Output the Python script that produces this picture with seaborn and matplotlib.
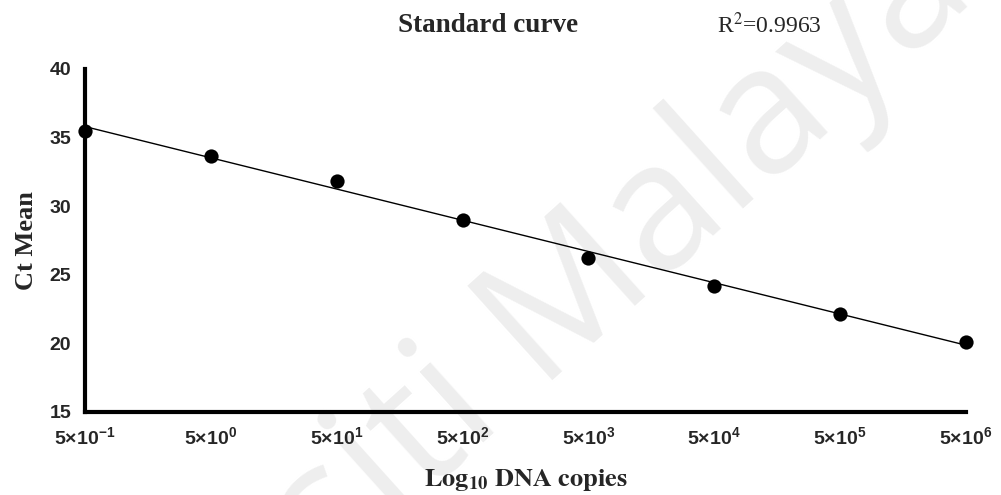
import numpy as np
import pandas as pd
import matplotlib
matplotlib.use("Agg")
import matplotlib.pyplot as plt
import seaborn as sns

# ---- data ----
copies = [5e-1, 5e0, 5e1, 5e2, 5e3, 5e4, 5e5, 5e6]
ct_mean = [35.48, 33.68, 31.84, 29.0, 26.25, 24.2, 22.14, 20.08]
tick_exponents = [-1, 0, 1, 2, 3, 4, 5, 6]
y_ticks = [15, 20, 25, 30, 35, 40]
r2_text = "0.9963"

sns.set_theme(style="white")
plt.rcParams["font.family"] = ["Liberation Sans", "DejaVu Sans"]
plt.rcParams["mathtext.fontset"] = "custom"
plt.rcParams["mathtext.rm"] = "Liberation Sans:bold"
plt.rcParams["mathtext.bf"] = "Liberation Sans:bold"
plt.rcParams["mathtext.it"] = "Liberation Sans:bold"

df = pd.DataFrame({"copies": copies, "ct": ct_mean})
slope, intercept = np.polyfit(np.log10(df["copies"]), df["ct"], 1)
df["fit"] = slope * np.log10(df["copies"]) + intercept

W, H = 1001, 495
fig = plt.figure(figsize=(W / 100, H / 100), dpi=100)
fig.patch.set_facecolor("white")
ax = fig.add_axes([0.085, 0.1677, 0.88, 0.693])
ax.set_zorder(2)
ax.set_facecolor("none")

# watermark (behind the axes)
wm_angle = 42
wm_size = 128
renderer = fig.canvas.get_renderer()
probe = fig.text(0, 0, "Universiti ", fontsize=wm_size, family="Open Sans")
w_px = probe.get_window_extent(renderer).width
probe.remove()
mx, my = 540, 392  # baseline start of "M" in pixels from top-left
th = np.deg2rad(wm_angle)
sx = mx - w_px * np.cos(th)
sy = my + w_px * np.sin(th)
fig.text(sx / W, 1 - sy / H, "Universiti Malaya", fontsize=wm_size,
         family="Open Sans", color="#eeeeee", rotation=wm_angle,
         rotation_mode="anchor", ha="left", va="baseline", zorder=0)

sns.lineplot(data=df, x="copies", y="fit", ax=ax, color="black", lw=1.0,
             zorder=2)
sns.scatterplot(data=df, x="copies", y="ct", ax=ax, color="black", s=105,
                edgecolor="black", linewidth=0, zorder=3, clip_on=False)

ax.set_xscale("log")
ax.set_xlim(copies[0], copies[-1])
ax.set_ylim(15, 40)
ax.set_xticks(copies)
ax.set_xticklabels([r"$5{\times}10^{%d}$" % e for e in tick_exponents])
ax.xaxis.set_minor_locator(matplotlib.ticker.NullLocator())
ax.set_yticks(y_ticks)
ax.set_yticklabels([str(v) for v in y_ticks])

for side in ["top", "right"]:
    ax.spines[side].set_visible(False)
for side in ["left", "bottom"]:
    ax.spines[side].set_linewidth(3)
    ax.spines[side].set_color("black")

ax.tick_params(axis="both", which="major", direction="out", length=7,
               width=3, color="black", labelsize=14, pad=3)
for lab in ax.get_yticklabels():
    lab.set_fontweight("bold")

serif = ["Liberation Serif", "DejaVu Serif"]
ax.set_xlabel(r"$\mathbf{Log_{10}\ DNA\ copies}$", fontsize=19,
              math_fontfamily="stix", labelpad=14)
ax.set_ylabel("Ct Mean", fontsize=19, fontweight="bold", family=serif,
              labelpad=8)

fig.text(0.488, 0.948, "Standard curve", fontsize=19.5, fontweight="bold",
         family=serif, ha="center", va="center")
fig.text(0.716, 0.948, r"R$^{2}$=" + r2_text, fontsize=17, family=serif,
         math_fontfamily="stix", ha="left", va="center")

fig.savefig("out.png", dpi=100)
